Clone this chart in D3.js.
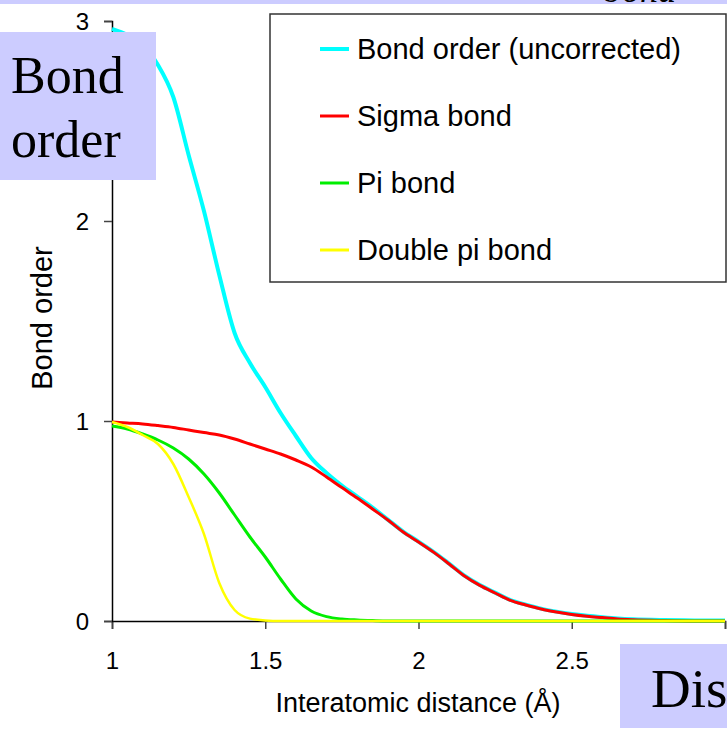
<!DOCTYPE html>
<html>
<head>
<meta charset="utf-8">
<script src="https://cdn.jsdelivr.net/npm/d3@7"></script>
<style>
  html, body { margin: 0; padding: 0; background: #fff; }
  svg { display: block; }
</style>
</head>
<body>
<svg id="chart" width="727" height="735"></svg>
<script>
// Interatomic distance grid (Å)
const distances = [1.0, 1.05, 1.1, 1.15, 1.2, 1.25, 1.3, 1.35, 1.4, 1.45, 1.5, 1.55, 1.6, 1.65, 1.7,
  1.75, 1.8, 1.85, 1.9, 1.95, 2.0, 2.05, 2.1, 2.15, 2.2, 2.25, 2.3, 2.35, 2.4, 2.45, 2.5, 2.55,
  2.6, 2.65, 2.7, 2.8, 2.9, 3.0];

// Bond orders at each distance
const uncorrected = [2.96, 2.93, 2.88, 2.78, 2.62, 2.33, 2.05, 1.73, 1.44, 1.29, 1.17, 1.04, 0.925, 0.815, 0.74,
  0.677, 0.622, 0.567, 0.507, 0.447, 0.397, 0.345, 0.287, 0.227, 0.18, 0.142, 0.105, 0.082, 0.062, 0.047, 0.035, 0.026,
  0.019, 0.013, 0.009, 0.005, 0.003, 0.002];
const sigma = [0.995, 0.99, 0.985, 0.977, 0.968, 0.955, 0.942, 0.93, 0.91, 0.885, 0.86, 0.835, 0.805, 0.77, 0.72,
  0.667, 0.615, 0.56, 0.505, 0.445, 0.395, 0.343, 0.285, 0.225, 0.178, 0.14, 0.103, 0.08, 0.06, 0.045, 0.033, 0.024,
  0.017, 0.01, 0.006, 0.002, 0, 0];
const pi = [0.975, 0.96, 0.935, 0.905, 0.865, 0.81, 0.735, 0.64, 0.53, 0.42, 0.32, 0.21, 0.11, 0.05, 0.022,
  0.01, 0.005, 0.002, 0, 0, 0, 0, 0, 0, 0, 0, 0, 0, 0, 0, 0, 0,
  0, 0, 0, 0, 0, 0];
const doublePi = [0.995, 0.97, 0.93, 0.885, 0.785, 0.62, 0.435, 0.19, 0.055, 0.012, 0.003, 0, 0, 0, 0,
  0, 0, 0, 0, 0, 0, 0, 0, 0, 0, 0, 0, 0, 0, 0, 0, 0,
  0, 0, 0, 0, 0, 0];

const seriesNames = ["Bond order (uncorrected)", "Sigma bond", "Pi bond", "Double pi bond"];
const seriesColors = ["#00ffff", "#ff0000", "#00ee00", "#ffff00"];
const seriesWidths = [4, 3, 3, 2.5];
const seriesValues = [uncorrected, sigma, pi, doublePi];

const xTicks = [1, 1.5, 2, 2.5, 3];
const xTickLabels = ["1", "1.5", "2", "2.5", ""];
const yTicks = [0, 1, 2, 3];

const svg = d3.select("#chart");
const sans = "'Liberation Sans', Arial, sans-serif";
const serif = "'Liberation Serif', 'Times New Roman', serif";

const x = d3.scaleLinear().domain([1, 3]).range([112, 725]);
const y = d3.scaleLinear().domain([0, 3]).range([621, 21]);

// top banner strip with the partially hidden slide word
svg.append("rect").attr("x", 0).attr("y", 0).attr("width", 727).attr("height", 4).attr("fill", "#ccccff");
svg.append("text").attr("x", 604).attr("y", 2)
  .attr("font-family", serif).attr("font-style", "italic").attr("font-size", 36)
  .text("bond");

// axes
const xAxis = d3.axisBottom(x).tickValues(xTicks).tickSize(8).tickPadding(23)
  .tickFormat((d, i) => xTickLabels[i]);
const yAxis = d3.axisLeft(y).tickValues(yTicks).tickSize(8).tickPadding(15)
  .tickFormat(d3.format("d"));

const gx = svg.append("g").attr("transform", `translate(0,${y(0)})`).call(xAxis);
const gy = svg.append("g").attr("transform", `translate(${x(1)},0)`).call(yAxis);
[gx, gy].forEach(g => {
  g.select(".domain").attr("stroke", "#000").attr("stroke-width", 1.5);
  g.selectAll(".tick line").attr("stroke", "#444").attr("stroke-width", 1.5);
  g.selectAll(".tick text").attr("font-family", sans).attr("font-size", 24).attr("fill", "#000");
});
gy.selectAll(".tick text").attr("dy", "0.36em");

// axis titles
svg.append("text").attr("x", 418).attr("y", 712).attr("text-anchor", "middle")
  .attr("font-family", sans).attr("font-size", 27).text("Interatomic distance (Å)");
svg.append("text").attr("transform", "translate(52,318) rotate(-90)").attr("text-anchor", "middle")
  .attr("font-family", sans).attr("font-size", 29).text("Bond order");

// curves
const line = d3.line().x(d => x(d[0])).y(d => y(d[1])).curve(d3.curveMonotoneX);
seriesValues.forEach((vals, i) => {
  svg.append("path")
    .datum(distances.map((d, j) => [d, vals[j]]))
    .attr("d", line)
    .attr("fill", "none")
    .attr("stroke", seriesColors[i])
    .attr("stroke-width", seriesWidths[i])
    .attr("stroke-linejoin", "round");
});

// legend
const legend = svg.append("g");
legend.append("rect").attr("x", 270).attr("y", 14).attr("width", 456).attr("height", 268)
  .attr("fill", "#fff").attr("stroke", "#333").attr("stroke-width", 1.5);
const legendY = [49, 116, 183, 250];
seriesNames.forEach((name, i) => {
  legend.append("line").attr("x1", 320).attr("x2", 349).attr("y1", legendY[i]).attr("y2", legendY[i])
    .attr("stroke", seriesColors[i]).attr("stroke-width", i === 0 ? 4 : 3);
  legend.append("text").attr("x", 357).attr("y", legendY[i]).attr("dy", "0.36em")
    .attr("font-family", sans).attr("font-size", 29).text(name);
});

// slide labels
svg.append("rect").attr("x", 0).attr("y", 32).attr("width", 156).attr("height", 148).attr("fill", "#ccccff");
svg.append("text").attr("x", 11).attr("y", 93).attr("font-family", serif).attr("font-size", 52).text("Bond");
svg.append("text").attr("x", 11).attr("y", 157).attr("font-family", serif).attr("font-size", 52).text("order");

svg.append("rect").attr("x", 620).attr("y", 644).attr("width", 107).attr("height", 84).attr("fill", "#ccccff");
svg.append("text").attr("x", 651).attr("y", 707).attr("font-family", serif).attr("font-size", 55).text("Distance");
</script>
</body>
</html>
